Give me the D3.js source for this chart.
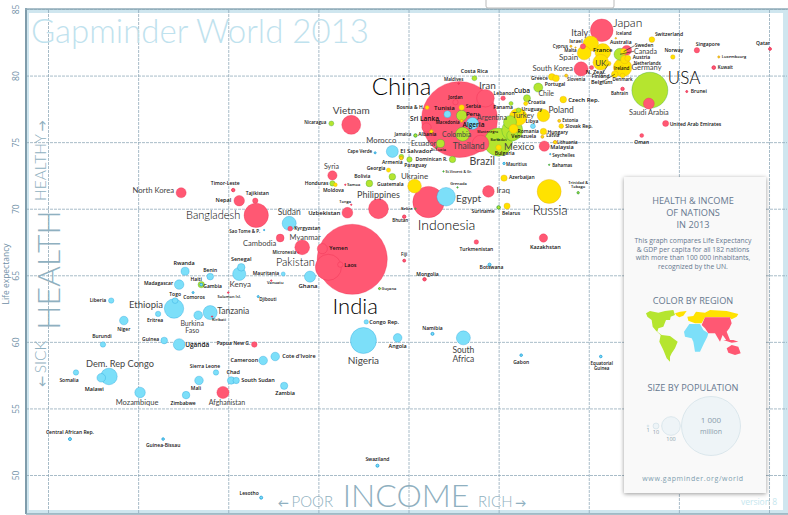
<!DOCTYPE html>
<html>
<head>
<meta charset="utf-8">
<style>
body { margin: 0; background: #fff; overflow: hidden; }
text { font-family: "Open Sans", sans-serif; }
.thin { font-family: Lato, "Open Sans", sans-serif; font-weight: 300; }
.grid path { display: none; }
.grid line { stroke: #8ba6b6; stroke-width: 1; stroke-dasharray: 3 1; opacity: .75; }
</style>
</head>
<body>
<div id="chart"></div>
<script src="https://cdn.jsdelivr.net/npm/d3@7"></script>
<script>
// [name, income per person $, life expectancy, population millions]
var asia = [
["China",11840,76.7,1410],["India",5190,66.2,1200],["Pakistan",4320,65.6,165],["Bangladesh",2480,69.5,145],
["Vietnam",5150,76.3,88],["Thailand",13930,74.9,67],["Iran",14460,78.3,76],["Japan",35360,83.4,125],
["South Korea",30160,80.5,49],["North Korea",1392,71.2,25],["Nepal",2176,70.6,27],["Tajikistan",2462,70.6,7],
["Timor-Leste",2078,71.4,2.8],["Kyrgyzstan",3220,68.5,5.6],["Cambodia",2982,67.8,15],["Myanmar",3532,67.1,53],
["Micronesia",3427,66.7,.5],["Yemen",4124,67,25],["Laos",4736,65.8,7],["Uzbekistan",5000,69.7,28],
["Philippines",6350,70,96],["Indonesia",9330,70.5,240],["Syria",4456,72.5,21],["Sri Lanka",9190,76.1,21],
["Jordan",11480,78,7],["Lebanon",16560,78.3,5],["Iraq",14790,71.3,33],["Saudi Arabia",50800,77.9,29],
["United Arab Emirates",57800,76.4,9],["Oman",48100,75.5,3.7],["Brunei",68000,78.8,1],["Bahrain",41500,79,2.8],
["Qatar",129000,82,2],["Singapore",73500,81.9,7],["Kuwait",83700,80.6,3.2],["Israel",30600,82.2,6.6],
["Australia",42850,81.9,23],["N. Zeal.",32700,80.6,4.4],["Bhutan",7740,69.4,2.8],["Maldives",11770,79.4,.5],
["Malaysia",22730,74.7,26],["Mongolia",9050,64.7,2.8],["Turkmenistan",13480,67.5,5],["Kazakhstan",22580,67.8,17],
["Afghanistan",1920,56.2,36],["Papua New G.",2444,59.8,7.5],["Vanuatu",2784,64.6,.5],["Solomon Isl.",2000,63.7,.6],
["Kiribati",1766,61.9,.4],["Tonga",5150,70.3,.4],["Samoa",4920,71.8,.4],["Fiji",7740,66.1,2]
];
var africa = [
["Algeria",13090,76.4,36],["Tunisia",10790,77.1,12],["Libya",20830,76.2,6],["Morocco",7064,74.3,35],
["Egypt",10680,70.9,84],["Cape Verde",6190,74.2,1],["Mauritius",16680,73.4,1.3],["Seychelles",23800,74.1,.4],
["Sudan",3196,68.9,48],["Sao Tome & P.",2636,68.4,.4],["Rwanda",1435,65.3,16],["Benin",1741,64.9,11],
["Senegal",2210,65.6,14],["Kenya",2176,65.1,42],["Mauritania",3053,65.1,4],["Madagascar",1371,64.3,22],
["Gambia",1625,64.3,2],["Togo",1329,63.1,8],["Comoros",1526,63.7,1],["Djibouti",2518,63.4,1],
["Liberia",813,63.1,7],["Ethiopia",1318,62.5,92],["Eritrea",1166,62.1,7],["Niger",896,61.6,18],
["Burkina|Faso",1587,62,18],["Tanzania",1741,62.2,48],["Ghana",3750,64.9,30],["Burundi",763,59.8,7],
["Guinea",1222,60.1,11],["Uganda",1371,59.8,33],["Cameroon",2616,58.6,18],["Cote d'Ivoire",2870,58.9,18],
["Dem. Rep Congo",799,57.4,67],["Malawi",753,57.3,18],["Somalia",620,57.7,7],["Mozambique",1015,56.2,27],
["Zimbabwe",1446,56,14],["Sierra Leone",1820,57.7,7],["Mali",1597,57.1,18],["Chad",2046,57.1,14],
["South Sudan",2126,57.1,10],["Zambia",3074,56.7,13],["Central African Rep.",592,52.7,2.2],["Guinea-Bissau",1212,52.7,1.6],
["Lesotho",2576,48.3,2.2],["Congo Rep.",5780,61.5,4.7],["Nigeria",5656,60.1,165],["Angola",7360,60.3,18],
["Namibia",9620,60.6,2.2],["South|Africa",12200,60.3,48],["Gabon",19030,59,1.6],["Equatorial|Guinea",35100,58.9,1.6],
["Swaziland",6300,50.7,2.2],["Botswana",14920,65.8,2.2]
];
var america = [
["USA",51200,78.9,316],["Canada",40700,81.6,35],["Brazil",15950,75,192],["Mexico",17770,75.9,108],
["Argentina",17460,76.5,41],["Venezuela",17770,75.5,30],["Colombia",12130,75.6,48],["Peru",12040,77,27],
["Chile",21700,79.1,20],["Cuba",19900,78.3,12],["Costa Rica",13280,79.8,6],["Panama",17600,77.9,4],
["Uruguay",18660,77.4,5],["Ecuador",10230,74.9,16],["Jamaica",8440,75.5,2.8],["El Salvador",7570,73.9,6],
["Paraguay",8060,73.7,7],["Dominican R.",11220,73.7,10],["Guatemala",7064,72.4,11],["Bolivia",5920,71.9,11],
["Honduras",4456,71.9,7],["Nicaragua",4420,76.4,6],["St.Vincent & Gr.",10470,72.8,.4],["Grenada",11660,71.6,.4],
["Belize",8440,70,.4],["Suriname",16000,70.1,3],["Trinidad &|Tobago",29500,71.2,1.3],["Guyana",6400,64,1],
["Haiti",1625,64.3,10],["Barbados",16000,75.2,.5],["Bahamas",23600,73.3,.4],["St.Lucia",9920,74.6,.4]
];
var europe = [
["Russia",23600,71.3,141],["Germany",41500,80.6,83],["UK",35100,81,60],["France",35650,81.8,63],
["Italy",32500,82.4,58],["Spain",30900,81.7,47],["Turkey",18600,76.9,74],["Ukraine",8380,71.7,46],
["Poland",22580,77,38],["Romania",17950,76,20],["Netherlands",42200,81.2,16],["Belgium",39100,80.1,11],
["Sweden",41850,81.8,9.5],["Austria",43200,81.3,8.5],["Switzerland",52000,82.7,8],["Norway",61100,81.4,5],
["Denmark",41500,80,5.6],["Finland",37300,80.9,5.4],["Ireland",41200,80.6,4.6],["Iceland",39400,82.8,.5],
["Luxembourg",87000,81.4,1],["Greece",24100,79.9,11],["Portugal",24870,79.8,11],["Slovenia",26900,80,2],
["Cyprus",27900,82.2,1],["Malta",28900,82.1,.4],["Czech Rep.",26300,78.2,11],["Croatia",19700,77.9,4.4],
["Estonia",25500,76.6,2],["Slovak Rep.",25900,76.2,5.5],["Hungary",22580,75.8,10],["Latvia",22400,75.4,2],
["Lithuania",24700,75,3],["Bulgaria",16000,74.6,7],["Belarus",17070,70.2,9.5],["Azerbaijan",16680,72.3,10],
["Serbia",12040,77.6,7],["Bosnia & H.",9230,77.6,3.8],["Albania",9540,75.8,3],["Macedonia",12040,76.6,2],
["Armenia",7570,73.8,3],["Georgia",6860,72.9,4.5],["Moldova",4560,71.8,3.5],["Montenegro",15400,75.8,.6]
];
var xTicks = [500,1000,2000,4000,8000,16000,32000,64000,128000];
var yTicks = [50,55,60,65,70,75,80,85];
var legendPops = [1,10,100,1000];
var legendCaptions = ["1","10","100"];
var introLines = ["This graph compares Life Expectancy","& GDP per capita for all 182 nations","with more than 100 000 inhabitants,","recognized by the UN."];
var headLines = ["HEALTH & INCOME","OF NATIONS","IN 2013"];

// label placement by country: anchor, dx, dy from the bubble, font size
var labelAt = {
"China":["m",-58,-33,24],"India":["m",3,47,22],"Pakistan":["m",-33,-5,11],"Bangladesh":["e",-16,0,11],"Vietnam":["m",0,-14,10],
"Thailand":["m",-12,3,8.5],"Iran":["m",2,-13,10],"Japan":["s",11,-8,12],"South Korea":["e",-8,-1,7.5],"North Korea":["e",-7,-2,7.7],
"Nepal":["e",-8,-1,5.5],"Tajikistan":["m",2,-7,5],"Timor-Leste":["m",-8,-7,5],"Kyrgyzstan":["s",4,0,5],"Cambodia":["e",-4,5,7.5],
"Myanmar":["m",3,-10,7.5],"Micronesia":["e",-2,0,4.5],"Yemen":["s",7,-1,5.5],"Laos":["s",4,0,5.5],"Uzbekistan":["e",-7,0,6],
"Philippines":["m",0,-14,9],"Indonesia":["m",18,23,14],"Syria":["m",-1,-9,7],"Sri Lanka":["m",-2,-9,6.5],"Jordan":["m",0,-5,4.5],
"Lebanon":["m",1,-5,5],"Iraq":["s",8,-1,8],"Saudi Arabia":["m",0,9,7.3],"United Arab Emirates":["s",4,1,5],"Oman":["m",0,7,5],
"Brunei":["s",4,0,5],"Bahrain":["m",-3,5,4.5],"Qatar":["m",-7,-6,5],"Singapore":["m",11,-6,5],"Kuwait":["s",4,0,4.5],
"Israel":["m",-7,-5,5],"Australia":["m",-6,-8,5],"N. Zeal.":["m",4,4,5.5],"Bhutan":["m",-4,4,4.5],"Maldives":["m",-5,-4,4.5],
"Malaysia":["s",6,1,5.5],"Mongolia":["m",3,-5,5],"Turkmenistan":["m",0,7,5],"Kazakhstan":["m",2,9,5.5],"Afghanistan":["m",4,10,7],
"Papua New G.":["e",-4,-1,5],"Vanuatu":["m",4,2,4],"Solomon Isl.":["m",1,4,4],"Kiribati":["m",7,3,4],"Tonga":["m",-6,-3,4],
"Samoa":["s",2,0,4],"Fiji":["m",0,-6,4.5],
"Algeria":["m",1,1,6.5],"Tunisia":["m",-3,-6,6],"Libya":["m",-1,-5,5],"Morocco":["m",-11,-11,7.7],"Cape Verde":["e",-3,-1,4.5],
"Mauritius":["s",2,1,4.5],"Seychelles":["s",2,1,4.5],"Egypt":["s",10,2,10],"Sudan":["m",0,-11,8.5],"Sao Tome & P.":["e",-4,1,4.5],
"Rwanda":["m",-1,-8,5.5],"Benin":["m",0,-6,5],"Senegal":["m",0,-8,5.5],"Kenya":["m",1,10,8],"Mauritania":["e",-4,-1,5],
"Madagascar":["e",-6,-1,5],"Gambia":["s",2,2,5],"Togo":["m",0,-6,5],"Comoros":["m",1,5,5],"Djibouti":["s",1,3,4.5],
"Liberia":["e",-5,0,5],"Ethiopia":["m",-28,-4,9.5],"Eritrea":["m",-3,6,5],"Niger":["m",0,9,5],"Burkina|Faso":["m",-6,8,7],
"Tanzania":["s",7,-2,8.5],"Ghana":["m",-2,9,6],"Burundi":["m",-1,-8,5],"Guinea":["e",-5,-1,5],"Uganda":["s",6,0,6.5],
"Cameroon":["e",-5,0,5.5],"Cote d'Ivoire":["s",7,0,5.5],"Dem. Rep Congo":["m",11,-13,9.2],"Malawi":["m",-7,11,5.5],"Somalia":["m",-7,8,5],
"Mozambique":["m",-3,10,7.5],"Zimbabwe":["m",-3,8,5],"Sierra Leone":["m",-11,-6,5],"Mali":["m",-3,8,5],"Chad":["m",2,-8,5.5],
"South Sudan":["s",5,0,5.5],"Zambia":["m",1,7,5.5],"Central African Rep.":["m",0,-7,5],"Guinea-Bissau":["m",0,6,5],"Lesotho":["m",-12,-4,5],
"Congo Rep.":["s",3,0,5.5],"Nigeria":["m",0,20,10],"Angola":["m",0,8,5.5],"Namibia":["m",0,-6,5],"South|Africa":["m",0,12,8.5],
"Gabon":["m",0,7,5],"Equatorial|Guinea":["m",1,7,4.5],"Swaziland":["m",0,-6,5],"Botswana":["m",2,3,5],
"USA":["s",18,-12,17],"Canada":["s",14,-3,7],"Brazil":["m",-16,19,10.5],"Mexico":["m",7,17,9.5],"Argentina":["m",-18,-5,7],
"Venezuela":["s",-1,1,5],"Colombia":["m",-6,0,7],"Peru":["m",11,-2,6],"Chile":["m",8,6,7],"Cuba":["m",-5,-7,6.5],
"Costa Rica":["m",0,-7,5.5],"Panama":["m",-8,4,5],"Uruguay":["s",3,-1,5],"Ecuador":["m",-17,0,7],"Jamaica":["e",-4,-1,4.5],
"El Salvador":["s",-1,-6,6],"Paraguay":["m",6,6,5],"Dominican R.":["e",-5,0,5],"Guatemala":["m",-2,7,5],"Bolivia":["m",-7,-7,5],
"Honduras":["e",-4,0,5],"Nicaragua":["e",-5,-1,4.5],"St.Vincent & Gr.":["s",2,0,3.5],"Grenada":["m",1,-4,4],"Belize":["e",-3,0,4],
"Suriname":["e",-4,4,5],"Trinidad &|Tobago":["m",0,-10,4],"Guyana":["s",2,0,4],"Haiti":["m",-5,-5,5],"Barbados":["m",0,0,3.5],
"Bahamas":["s",3,1,4.5],"St.Lucia":["m",2,2,4],
"Russia":["m",1,19,13],"Germany":["s",9,0,7.5],"UK":["m",0,1,8],"France":["m",0,-2,6],"Italy":["m",-11,-11,9],"Spain":["e",-6,4,8],
"Turkey":["m",5,-1,7.5],"Ukraine":["m",0,-10,8],"Poland":["s",5,-5,8.5],"Romania":["s",4,2,5],"Netherlands":["s",9,4,4.5],
"Belgium":["m",-13,8,5.5],"Sweden":["s",11,-6,5],"Austria":["s",5,-1,5],"Switzerland":["s",3,-5,5],"Norway":["m",1,-7,5],
"Denmark":["m",0,4,4.5],"Finland":["m",-8,13,5],"Ireland":["m",0,1,4.5],"Iceland":["m",8,-5,4.5],"Luxembourg":["s",3,0,4],
"Greece":["e",-4,1,5],"Portugal":["m",-1,6,5],"Slovenia":["m",10,4,4.5],"Cyprus":["e",-3,0,4.5],"Malta":["m",-5,3,4.5],
"Czech Rep.":["s",5,0,6],"Croatia":["m",11,-1,5],"Estonia":["s",3,0,4.5],"Slovak Rep.":["s",4,0,5],"Hungary":["s",4,1,5],
"Latvia":["s",4,-1,4.5],"Lithuania":["s",2,0,4.5],"Bulgaria":["m",6,6,5],"Belarus":["m",4,7,5],"Azerbaijan":["s",5,-1,5],
"Serbia":["s",4,-1,5],"Bosnia & H.":["e",-3,0,5],"Albania":["m",-4,3,5],"Macedonia":["m",-14,2,4.5],"Armenia":["m",-9,4,5],
"Georgia":["e",-3,-2,5],"Moldova":["m",-2,6,5],"Montenegro":["m",-6,0,3.5]
};
var leaderNames = ["Canada","Sweden","Finland","Belgium"];
// size of a label from which it is set in the thin display face
var thinFrom = 6.9;

// rough world silhouette for the colour key, in its own little grid
var mapShapes = [
{ region: "america", pts: [[78,430],[90,423],[115,428],[135,423],[160,420],[165,435],[152,440],[150,450],[138,450],[130,470],[115,475],[112,485],[125,495],[150,498],[173,515],[165,535],[155,550],[150,560],[150,575],[140,565],[130,540],[118,515],[122,495],[108,482],[98,470],[95,450],[82,440]] },
{ region: "europe", pts: [[165,430],[180,425],[200,423],[190,437],[178,442],[170,437]] },
{ region: "europe", pts: [[202,440],[220,438],[228,425],[255,428],[270,420],[320,423],[355,432],[350,440],[335,448],[328,442],[255,442],[245,460],[225,460],[205,452]] },
{ region: "africa", pts: [[192,485],[208,462],[240,462],[250,480],[265,490],[262,500],[252,520],[240,545],[225,545],[220,515],[215,505],[195,500]] },
{ region: "asia", pts: [[245,465],[255,442],[330,442],[335,460],[328,475],[320,485],[330,510],[320,512],[308,495],[300,515],[285,490],[265,490],[255,475]] },
{ region: "asia", pts: [[310,510],[340,510],[355,515],[335,518]] },
{ region: "asia", pts: [[320,535],[335,525],[355,530],[362,550],[345,555],[325,548]] }
];

var fillBy = { asia: "#ff5873", africa: "#7cdff9", america: "#b5e52f", europe: "#ffe200" };
var ringBy = { asia: "#e8284c", africa: "#1a9ad6", america: "#2a9d3a", europe: "#e0a020" };

var W = 788, H = 515;
var svg = d3.select("#chart").append("svg").attr("width", W).attr("height", H);

var x = d3.scaleLog().base(2).domain([500, 128000]).range([48, 769]);
var y = d3.scaleLinear().domain([50, 85]).range([475, 9]);
var r = d3.scaleSqrt().domain([0, 1000]).range([0, 32]);

// frame
svg.append("rect").attr("x", 26).attr("y", 9).attr("width", 762).attr("height", 505).attr("fill", "#cfe6ef");
svg.append("rect").attr("x", 29).attr("y", 13).attr("width", 754).attr("height", 497).attr("fill", "#fff");

svg.append("g").attr("class", "grid").attr("transform", "translate(0,513)")
    .call(d3.axisBottom(x).tickValues(xTicks).tickSize(-504).tickFormat(""));
var yAxis = svg.append("g").attr("class", "grid").attr("transform", "translate(26,0)")
    .call(d3.axisLeft(y).tickValues(yTicks).tickSize(-761).tickSizeOuter(0));
yAxis.selectAll("text")
    .attr("transform", "rotate(-90,-8,0)")
    .attr("x", -8).attr("y", 0).attr("dy", "0.1em")
    .attr("text-anchor", "middle")
    .style("font-size", "8.5px").style("fill", "#6f8fa6");

svg.append("line").attr("x1", 26).attr("x2", 26).attr("y1", 8).attr("y2", 514).attr("stroke", "#7f9cab").attr("stroke-width", 2);
svg.append("line").attr("x1", 25).attr("x2", 788).attr("y1", 9).attr("y2", 9).attr("stroke", "#8fabb9").attr("stroke-width", 1.5);
svg.append("line").attr("x1", 26).attr("x2", 788).attr("y1", 514).attr("y2", 514).attr("stroke", "#8fabb9").attr("stroke-width", 1.5);

// little popup cut by the top of the window
svg.append("rect").attr("x", 486).attr("y", -4).attr("width", 128).attr("height", 12).attr("rx", 2)
    .attr("fill", "#fff").attr("stroke", "#bbb");

svg.append("text").attr("class", "thin").attr("x", 31).attr("y", 43).text("Gapminder World 2013")
    .style("font-size", "33px").style("fill", "#bfe2ee");

function arrowed(sel, word, arrow, before) {
    if (before) sel.append("tspan").text(arrow + " ").style("font-size", "11px").style("font-weight", 700);
    sel.append("tspan").text(word);
    if (!before) sel.append("tspan").text(" " + arrow).style("font-size", "11px").style("font-weight", 700);
}
function rotated(word, arrow, before, tx, ty, size, anchor) {
    var t = svg.append("text").attr("class", "thin")
        .attr("transform", "translate(" + tx + "," + ty + ") rotate(-90)")
        .attr("text-anchor", anchor)
        .style("font-size", size + "px").style("fill", "#8fb0c0");
    if (arrow) arrowed(t, word, arrow, before); else t.text(word);
}
rotated("HEALTH", null, false, 60, 270, 32, "middle");
rotated("HEALTHY", "\u2192", false, 46, 201, 15.5, "start");
rotated("SICK", "\u2190", true, 46, 387, 15.5, "start");
svg.append("text").attr("transform", "translate(9,274) rotate(-90)").attr("text-anchor", "middle")
    .text("Life expectancy").style("font-size", "8.5px").style("fill", "#6f8fa6");

svg.append("text").attr("class", "thin").attr("x", 406).attr("y", 507).attr("text-anchor", "middle").text("INCOME")
    .style("font-size", "32px").style("fill", "#8fb0c0");
var poor = svg.append("text").attr("class", "thin").attr("x", 333).attr("y", 507).attr("text-anchor", "end")
    .style("font-size", "15px").style("fill", "#8fb0c0");
arrowed(poor, "POOR", "\u2190", true);
var rich = svg.append("text").attr("class", "thin").attr("x", 478).attr("y", 507)
    .style("font-size", "15px").style("fill", "#8fb0c0");
arrowed(rich, "RICH", "\u2192", false);

// bubbles
var nations = [];
[["asia", asia], ["africa", africa], ["america", america], ["europe", europe]].forEach(function(g) {
    g[1].forEach(function(row) {
        nations.push({ name: row[0], income: row[1], life: row[2], pop: row[3], region: g[0] });
    });
});
nations.sort(function(a, b) { return b.pop - a.pop; });

svg.append("g").selectAll("circle").data(nations).enter().append("circle")
    .attr("cx", function(d) { return x(d.income); })
    .attr("cy", function(d) { return y(d.life); })
    .attr("r", function(d) { return r(d.pop); })
    .attr("fill", function(d) { return fillBy[d.region]; })
    .attr("stroke", function(d) { return ringBy[d.region]; })
    .attr("stroke-opacity", function(d) { return d.pop < 3.5 ? 1 : 0.55; })
    .attr("stroke-width", function(d) { return d.pop < 3.5 ? 0.8 : 0.6; });

leaderNames.forEach(function(n) {
    var d = nations.filter(function(c) { return c.name == n; })[0];
    var l = labelAt[n];
    svg.append("line")
        .attr("x1", x(d.income)).attr("y1", y(d.life))
        .attr("x2", x(d.income) + l[1]).attr("y2", y(d.life) + l[2])
        .attr("stroke", "#222").attr("stroke-width", 0.6);
});

var anchors = { s: "start", m: "middle", e: "end" };
var labels = svg.append("g").selectAll("text").data(nations).enter().append("text")
    .attr("class", function(d) { return labelAt[d.name][3] >= thinFrom ? "thin" : null; })
    .attr("text-anchor", function(d) { return anchors[labelAt[d.name][0]]; })
    .style("font-size", function(d) { return labelAt[d.name][3] + "px"; })
    .style("font-weight", function(d) {
        var s = labelAt[d.name][3];
        return s >= 11 ? 300 : s >= thinFrom ? 400 : 600;
    })
    .style("fill", function(d) {
        var s = labelAt[d.name][3];
        return s >= 11 ? "#000" : s >= thinFrom ? "#444" : "#111";
    });
labels.each(function(d) {
    var l = labelAt[d.name], px = x(d.income) + l[1], py = y(d.life) + l[2];
    var lines = d.name.split("|");
    d3.select(this).selectAll("tspan").data(lines).enter().append("tspan")
        .attr("x", px)
        .attr("y", function(t, i) { return py + i * l[3] * 1.05; })
        .attr("dy", "0.35em")
        .text(function(t) { return t; });
});

// info panel
var defs = svg.append("defs");
var sh = defs.append("filter").attr("id", "sh").attr("x", "-10%").attr("y", "-10%").attr("width", "120%").attr("height", "120%");
sh.append("feDropShadow").attr("dx", 0).attr("dy", 1).attr("stdDeviation", 2).attr("flood-color", "#000").attr("flood-opacity", 0.4);
svg.append("rect").attr("x", 624).attr("y", 177).attr("width", 142).attr("height", 316)
    .attr("fill", "#f9f9f9").attr("filter", "url(#sh)");

var panelMid = 693;
function panelText(txt, ty, size, col, tx) {
    return svg.append("text").attr("x", tx === undefined ? panelMid : tx).attr("y", ty).attr("text-anchor", "middle")
        .text(txt).style("font-size", size + "px").style("fill", col);
}
headLines.forEach(function(t, i) { panelText(t, 204 + i * 12, 9.2, "#66788f"); });
introLines.forEach(function(t, i) { panelText(t, 243 + i * 8.6, 6.8, "#66788f"); });
panelText("COLOR BY REGION", 304, 9.2, "#66788f");
panelText("SIZE BY POPULATION", 391, 9.2, "#66788f");

// colour key map
var mx = d3.scaleLinear().domain([0, 168 * 3]).range([620, 788]);
var my = d3.scaleLinear().domain([0, 345 * 3]).range([170, 515]);
var mapLine = d3.line().x(function(p) { return mx(p[0]); }).y(function(p) { return my(p[1]); }).curve(d3.curveLinearClosed);
svg.append("g").selectAll("path").data(mapShapes).enter().append("path")
    .attr("d", function(d) { return mapLine(d.pts); })
    .attr("fill", function(d) { return fillBy[d.region]; });

// size key
var keyR = d3.scaleSqrt().domain([0, 1000]).range([0, 29.5]);
var keyX = d3.scaleOrdinal().domain(legendPops).range([648, 656, 671, 711]);
svg.append("g").selectAll("circle").data(legendPops).enter().append("circle")
    .attr("cx", function(d) { return keyX(d); }).attr("cy", 426)
    .attr("r", function(d) { return keyR(d); })
    .attr("fill", "#eef4f7").attr("stroke", "#d0dfe6").attr("stroke-width", 0.7);
legendCaptions.forEach(function(t, i) {
    var p = legendPops[i];
    panelText(t, 426 + keyR(p) + 5.5, 5.5, "#8a9cab", keyX(p));
});
panelText("1 000", 423, 8, "#8a9cab", 711);
panelText("million", 434, 7, "#8a9cab", 711);
panelText("www.gapminder.org/world", 481, 7, "#7f9fb0").style("letter-spacing", "0.6px");

svg.append("text").attr("x", 777).attr("y", 505).attr("text-anchor", "end").text("version 8")
    .style("font-size", "8.5px").style("fill", "#c5e6ee");
</script>
</body>
</html>
